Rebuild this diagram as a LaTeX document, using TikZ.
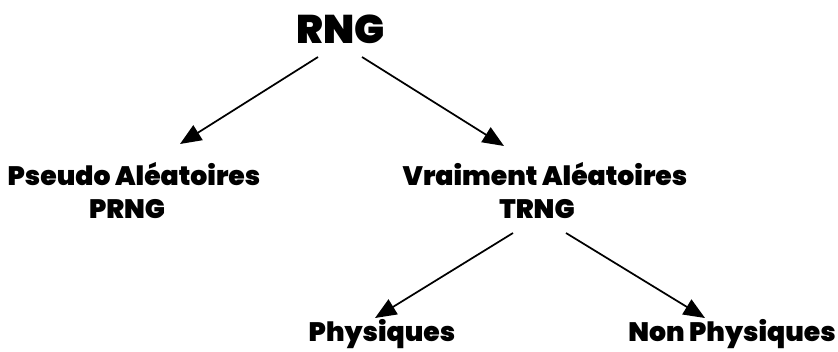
\documentclass[tikz,border=0pt]{standalone}
\usepackage{fontspec}
\setmainfont{Poppins}[BoldFont={Poppins Black}]
\usetikzlibrary{positioning,arrows.meta}

\begin{document}
\begin{tikzpicture}[
			x=0.75pt, y=-0.75pt,
			label/.style={anchor=base, inner sep=0pt, font=\fontsize{20}{24}\selectfont\bfseries},
			title/.style={label, font=\fontsize{30}{36}\selectfont\bfseries},
			arr/.style={-{Triangle[length=16pt,width=13pt]}, line width=1.3pt}
	]
		\useasboundingbox (0,0) rectangle (838,351);

		\node (rng) [title] at (341,43) {RNG};

		\node (pseudo) [label] at (134,185) {Pseudo Aléatoires};
		\node (prng) [label] at (127,218) {PRNG};
		\node (vrai) [label] at (545,185) {Vraiment Aléatoires};
		\node (trng) [label] at (537,218) {TRNG};

		\node (phys) [label] at (382,341) {Physiques};
		\node (nonphys) [label] at (732,341) {Non Physiques};

		\draw [arr] ([shift={(-23,14)}]rng.base) -- ([shift={(46,-41)}]pseudo.base);
		\draw [arr] ([shift={(21,14)}]rng.base) -- ([shift={(-41,-39)}]vrai.base);
		\draw [arr] ([shift={(-24,15)}]trng.base) -- ([shift={(-7,-23)}]phys.base);
		\draw [arr] ([shift={(29,15)}]trng.base) -- ([shift={(-27,-23)}]nonphys.base);
	\end{tikzpicture}
\end{document}
